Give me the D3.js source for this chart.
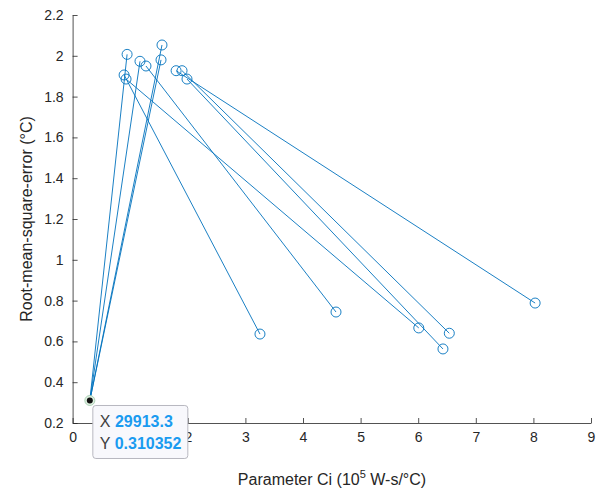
<!DOCTYPE html>
<html>
<head>
<meta charset="utf-8">
<script src="https://cdn.jsdelivr.net/npm/d3@7"></script>
<style>
  body { margin: 0; background: #fff; }
  svg { font-family: "Liberation Sans", Arial, sans-serif; }
  .axis text { fill: #262626; font-size: 14px; }
  .axis path, .axis line { stroke: #262626; }
</style>
</head>
<body>
<svg width="600" height="493"></svg>
<script>
// DATA (Ci in 10^5 W-s/°C, RMSE in °C)
// each segment goes from a start point to an end point
const fromCi   = [0.299, 0.299, 0.299, 0.299, 0.894, 0.928, 1.274, 1.797, 1.900, 1.986];
const fromRmse = [0.310, 0.310, 0.310, 0.310, 1.906, 1.886, 1.950, 1.927, 1.927, 1.886];
const toCi     = [0.946, 1.170, 1.535, 1.552, 3.253, 6.010, 4.573, 8.030, 6.540, 6.430];
const toRmse   = [2.007, 1.973, 1.980, 2.053, 0.636, 0.666, 0.744, 0.788, 0.640, 0.563];

const tipCi = 0.299133;
const tipRmse = 0.310352;
const tipLabels = ["29913.3", "0.310352"];

const xTicks = [0, 1, 2, 3, 4, 5, 6, 7, 8, 9];
const yTicks = [0.2, 0.4, 0.6, 0.8, 1, 1.2, 1.4, 1.6, 1.8, 2, 2.2];

// LAYOUT
const LINE_COLOR = "#0072BD";
const TEXT_COLOR = "#262626";

const svg = d3.select("svg");

const x = d3.scaleLinear().domain([0, 9]).range([72.6, 591]);
const y = d3.scaleLinear().domain([0.2, 2.2]).range([423, 15]);

// axes (ticks point inward, no box)
svg.append("g")
    .attr("class", "axis")
    .attr("transform", `translate(0,${y(0.2)})`)
    .call(d3.axisBottom(x).tickValues(xTicks).tickSizeInner(-5).tickSizeOuter(0).tickPadding(9).tickFormat(d => String(d)));

svg.append("g")
    .attr("class", "axis")
    .attr("transform", `translate(${x(0)},0)`)
    .call(d3.axisLeft(y).tickValues(yTicks).tickSizeInner(-5).tickSizeOuter(0).tickPadding(9).tickFormat(d => String(d)));

svg.selectAll(".axis .tick line").attr("stroke-width", 0.8);
svg.selectAll(".axis path").attr("stroke-width", 0.8);

const segs = d3.range(fromCi.length).map(i => ({
    x1: fromCi[i], y1: fromRmse[i], x2: toCi[i], y2: toRmse[i]
}));

const plot = svg.append("g");

plot.selectAll(".seg")
    .data(segs)
    .enter()
    .append("line")
    .attr("class", "seg")
    .attr("x1", d => x(d.x1))
    .attr("y1", d => y(d.y1))
    .attr("x2", d => x(d.x2))
    .attr("y2", d => y(d.y2))
    .attr("stroke", LINE_COLOR)
    .attr("stroke-width", 0.9);

// circle markers at every point except the shared start (covered by the data tip)
const markers = [];
segs.forEach(d => {
    if (d.x1 !== fromCi[0]) markers.push([d.x1, d.y1]);
    markers.push([d.x2, d.y2]);
});

plot.selectAll(".mk")
    .data(markers)
    .enter()
    .append("circle")
    .attr("class", "mk")
    .attr("cx", d => x(d[0]))
    .attr("cy", d => y(d[1]))
    .attr("r", 5)
    .attr("fill", "none")
    .attr("stroke", LINE_COLOR)
    .attr("stroke-width", 0.9);

// data tip
const tx = x(tipCi), ty = y(tipRmse);
svg.append("circle")
    .attr("cx", tx).attr("cy", ty).attr("r", 5)
    .attr("fill", "#dff0e0").attr("stroke", "#9cc7a8").attr("stroke-width", 0.8);
svg.append("circle")
    .attr("cx", tx).attr("cy", ty).attr("r", 3)
    .attr("fill", "#111");

const tip = svg.append("g").attr("transform", `translate(${tx + 3},${ty + 5})`);
tip.append("rect")
    .attr("width", 95).attr("height", 53).attr("rx", 3)
    .attr("fill", "#f8f8fc").attr("stroke", "#b8b8c0").attr("stroke-width", 1);
["X", "Y"].forEach((k, i) => {
    const t = tip.append("text")
        .attr("x", 7).attr("y", 22 + i * 22)
        .style("font-size", "16px");
    t.append("tspan").attr("fill", "#404040").text(k + " ");
    t.append("tspan").attr("fill", "#1a9bf0").attr("font-weight", "bold").text(tipLabels[i]);
});

// axis labels
const xl = svg.append("text")
    .attr("x", 332).attr("y", 485)
    .attr("text-anchor", "middle")
    .attr("fill", TEXT_COLOR)
    .style("font-size", "16px");
xl.append("tspan").text("Parameter Ci (10");
xl.append("tspan").attr("dy", -7).style("font-size", "11px").text("5");
xl.append("tspan").attr("dy", 7).text(" W-s/°C)");

svg.append("text")
    .attr("transform", `translate(32,${(y(0.2) + y(2.2)) / 2}) rotate(-90)`)
    .attr("text-anchor", "middle")
    .attr("fill", TEXT_COLOR)
    .style("font-size", "16px")
    .text("Root-mean-square-error (°C)");
</script>
</body>
</html>
